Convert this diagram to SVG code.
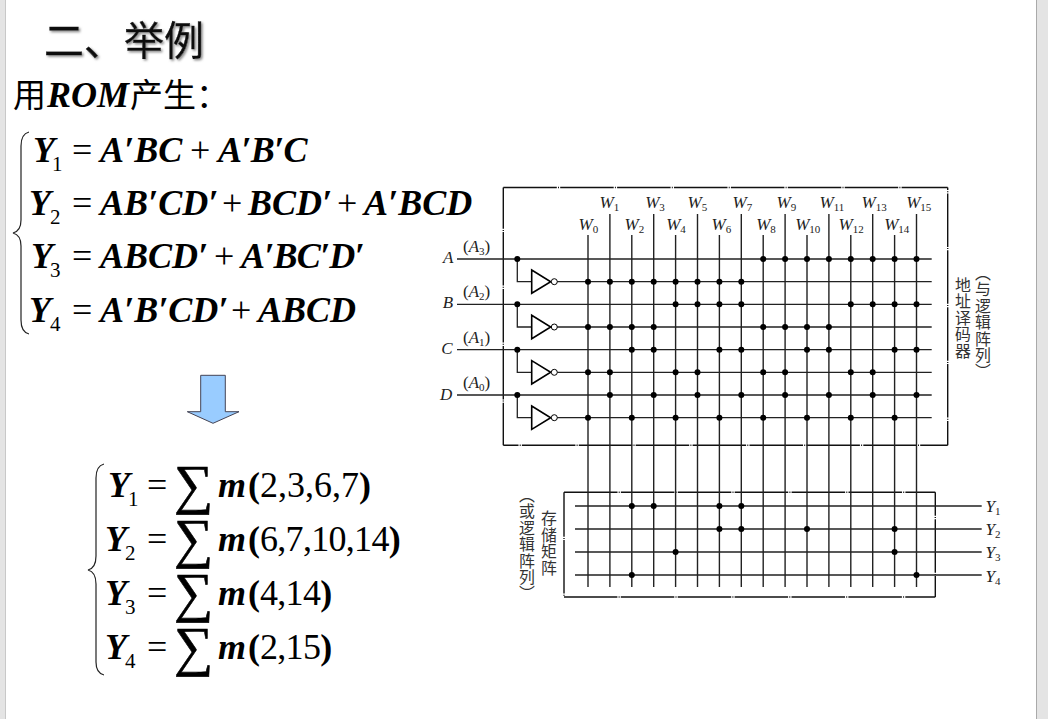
<svg xmlns="http://www.w3.org/2000/svg" width="1048" height="719" viewBox="0 0 1048 719">
<defs>
<filter id="shadow" x="-10%" y="-20%" width="120%" height="150%"><feDropShadow dx="1.5" dy="1.5" stdDeviation="1" flood-color="#888"/></filter>
</defs>
<style>
.cj{font-family:"Noto Sans CJK SC",sans-serif}
.eq{font-family:"Liberation Serif",serif;font-weight:bold;font-style:italic;font-size:36px;fill:#000}
.op{font-style:normal;font-weight:normal}
.sub{font-style:normal;font-weight:normal;font-size:21px}
.num{font-style:normal;font-weight:normal}
.par{font-style:normal}
.sum{font-style:normal;font-weight:normal;font-size:55px;stroke:#000;stroke-width:.6}
.brace{fill:none;stroke:#222;stroke-width:1.2}
.b{stroke:#111;stroke-width:1.4;fill:none;stroke-dasharray:53.5 1.2 1 1.2}
.w{stroke:#222;stroke-width:1.4;fill:none}
.h{stroke:#222;stroke-width:1.3;fill:none}
.inv{fill:#fff;stroke:#000;stroke-width:1.6}
.bub{fill:#fff;stroke:#000;stroke-width:1}
.dots{stroke:#000;stroke-width:6;stroke-linecap:round;fill:none}
.l{font-family:"Liberation Serif",serif;font-style:italic;font-size:17px;fill:#222}
.p{font-style:normal}
.s{font-style:normal;font-size:11px}
.v{font-family:"Noto Sans CJK SC",sans-serif;font-size:15.9px;writing-mode:vertical-rl;fill:#333;letter-spacing:.5px}
</style>
<rect width="1048" height="719" fill="#fff"/>
<g id="page-edges"><rect x="0" y="0" width="5" height="719" fill="#e4e4e4"/><rect x="5" y="0" width="1" height="719" fill="#c8c8c8"/><rect x="1037" y="0" width="11" height="719" fill="#e4e4e4"/><rect x="1036" y="0" width="1" height="719" fill="#aaa"/></g>
<g id="title"><text class="cj" x="44" y="55" font-size="40" fill="#111" stroke="#111" stroke-width=".4" filter="url(#shadow)">二、举例</text></g>
<g id="intro"><text y="107" font-size="34"><tspan class="cj" x="13" font-size="33">用</tspan><tspan class="eq" x="47">ROM</tspan><tspan class="cj" x="130" font-size="33">产生：</tspan></text></g>
<g id="eqs1">
<path class="brace" d="M29 132Q21 134 21 146V220Q21 231 13 233Q21 235 21 246V320Q21 332 29 334"/>
<text class="eq" y="162"><tspan x="33">Y</tspan><tspan class="sub" x="52" dy="8.5">1</tspan><tspan class="op" x="72" dy="-8.5">=</tspan><tspan x="100">A′BC</tspan><tspan class="op" x="190">+</tspan><tspan x="218" letter-spacing="-.7">A′B′C</tspan></text>
<text class="eq" y="215"><tspan x="29">Y</tspan><tspan class="sub" x="50" dy="8.5">2</tspan><tspan class="op" x="72" dy="-8.5">=</tspan><tspan x="100">AB′CD′</tspan><tspan class="op" x="222">+</tspan><tspan x="248">BCD′</tspan><tspan class="op" x="337">+</tspan><tspan x="364">A′BCD</tspan></text>
<text class="eq" y="268"><tspan x="31">Y</tspan><tspan class="sub" x="50" dy="8.5">3</tspan><tspan class="op" x="72" dy="-8.5">=</tspan><tspan x="100">ABCD′</tspan><tspan class="op" x="214">+</tspan><tspan x="241" letter-spacing="-.8">A′BC′D′</tspan></text>
<text class="eq" y="322"><tspan x="29">Y</tspan><tspan class="sub" x="50" dy="8.5">4</tspan><tspan class="op" x="72" dy="-8.5">=</tspan><tspan x="100">A′B′CD′</tspan><tspan class="op" x="231">+</tspan><tspan x="258">ABCD</tspan></text>
</g>
<g id="arrow"><path d="M200.7 375.3H225.3V411.7H239L213 423.3L187.3 411.7H200.7Z" fill="#99ccff" stroke="#445" stroke-width="1"/></g>
<g id="eqs2">
<path class="brace" d="M104 464Q96 466 96 478V556Q96 568 88 570Q96 572 96 584V662Q96 673 104 675"/>
<text class="eq" y="497"><tspan x="108">Y</tspan><tspan class="sub" x="128" dy="8.5">1</tspan><tspan class="op" x="147" dy="-8.5">=</tspan><tspan class="sum" x="174" dy="5.5">∑</tspan><tspan x="218" dy="-5.5">m</tspan><tspan class="par" x="248">(</tspan><tspan class="num">2,3,6,7</tspan><tspan class="par">)</tspan></text>
<text class="eq" y="551"><tspan x="105">Y</tspan><tspan class="sub" x="125" dy="8.5">2</tspan><tspan class="op" x="147" dy="-8.5">=</tspan><tspan class="sum" x="174" dy="5.5">∑</tspan><tspan x="218" dy="-5.5">m</tspan><tspan class="par" x="248">(</tspan><tspan class="num" letter-spacing="-.7">6,7,10,14</tspan><tspan class="par">)</tspan></text>
<text class="eq" y="605"><tspan x="105">Y</tspan><tspan class="sub" x="125" dy="8.5">3</tspan><tspan class="op" x="147" dy="-8.5">=</tspan><tspan class="sum" x="174" dy="5.5">∑</tspan><tspan x="218" dy="-5.5">m</tspan><tspan class="par" x="248">(</tspan><tspan class="num" letter-spacing="-.7">4,14</tspan><tspan class="par">)</tspan></text>
<text class="eq" y="659"><tspan x="105">Y</tspan><tspan class="sub" x="125" dy="8.5">4</tspan><tspan class="op" x="147" dy="-8.5">=</tspan><tspan class="sum" x="174" dy="5.5">∑</tspan><tspan x="218" dy="-5.5">m</tspan><tspan class="par" x="248">(</tspan><tspan class="num" letter-spacing="-.7">2,15</tspan><tspan class="par">)</tspan></text>
</g>
<g id="decoder-box">
<path class="b" d="M503.3 187.5H947.7"/><path class="b" d="M947.7 187.5V445.3" stroke-dashoffset="51"/><path class="b" d="M947.7 445.3H503.3" stroke-dashoffset="26"/><path class="b" d="M503.3 445.3V187.5" stroke-dashoffset="11"/>
</g>
<g id="or-box">
<path class="b" d="M564 492.3H935.3"/><path class="b" d="M935.3 492.3V597" stroke-dashoffset="30"/><path class="b" d="M935.3 597H564" stroke-dashoffset="23.5"/><path class="b" d="M564 597V492.3" stroke-dashoffset="53.5"/>
</g>
<g id="connectors">
<path class="h" d="M457 259H931.7M457 304.3H931.7M457 349.7H931.7M457 395H931.7M557 281.7H931.7M557 327H931.7M557 372.3H931.7M557 417.7H931.7"/>
<path class="h" d="M517.3 259V281.7H531.7M517.3 304.3V327H531.7M517.3 349.7V372.3H531.7M517.3 395V417.7H531.7"/>
<path class="h" d="M575 506H981.7M575 529H981.7M575 552H981.7M575 575H981.7"/>
<path class="w" d="M588 235V587M609.9 214V587M631.8 235V587M653.7 214V587M675.6 235V587M697.5 214V587M719.4 235V587M741.3 214V587M763.2 235V587M785.1 214V587M807 235V587M828.9 214V587M850.8 235V587M872.7 214V587M894.6 235V587M916.5 214V587"/>
</g>
<g id="inverters">
<path id="inv1" class="inv" d="M531.7 270V293.3L550.7 281.7Z"/><circle class="bub" cx="554.3" cy="281.7" r="3"/>
<path id="inv2" class="inv" d="M531.7 315.3V338.7L550.7 327Z"/><circle class="bub" cx="554.3" cy="327" r="3"/>
<path id="inv3" class="inv" d="M531.7 360.6V384L550.7 372.3Z"/><circle class="bub" cx="554.3" cy="372.3" r="3"/>
<path id="inv4" class="inv" d="M531.7 406V429.4L550.7 417.7Z"/><circle class="bub" cx="554.3" cy="417.7" r="3"/>
</g>
<g id="dots" class="dots">
<path d="M517.3 259h0M517.3 304.3h0M517.3 349.7h0M517.3 395h0"/>
<path d="M763.2 259h0M785.1 259h0M807 259h0M828.9 259h0M850.8 259h0M872.7 259h0M894.6 259h0M916.5 259h0"/>
<path d="M588 281.7h0M609.9 281.7h0M631.8 281.7h0M653.7 281.7h0M675.6 281.7h0M697.5 281.7h0M719.4 281.7h0M741.3 281.7h0"/>
<path d="M675.6 304.3h0M697.5 304.3h0M719.4 304.3h0M741.3 304.3h0M850.8 304.3h0M872.7 304.3h0M894.6 304.3h0M916.5 304.3h0"/>
<path d="M588 327h0M609.9 327h0M631.8 327h0M653.7 327h0M763.2 327h0M785.1 327h0M807 327h0M828.9 327h0"/>
<path d="M631.8 349.7h0M653.7 349.7h0M719.4 349.7h0M741.3 349.7h0M807 349.7h0M828.9 349.7h0M894.6 349.7h0M916.5 349.7h0"/>
<path d="M588 372.3h0M609.9 372.3h0M675.6 372.3h0M697.5 372.3h0M763.2 372.3h0M785.1 372.3h0M850.8 372.3h0M872.7 372.3h0"/>
<path d="M609.9 395h0M653.7 395h0M697.5 395h0M741.3 395h0M785.1 395h0M828.9 395h0M872.7 395h0M916.5 395h0"/>
<path d="M588 417.7h0M631.8 417.7h0M675.6 417.7h0M719.4 417.7h0M763.2 417.7h0M807 417.7h0M850.8 417.7h0M894.6 417.7h0"/>
<path d="M631.8 506h0M653.7 506h0M719.4 506h0M741.3 506h0M719.4 529h0M741.3 529h0M807 529h0M894.6 529h0M675.6 552h0M894.6 552h0M631.8 575h0M916.5 575h0"/>
</g>
<g id="labels">
<text class="l" x="443" y="263">A</text><text class="l" x="442.7" y="308">B</text><text class="l" x="441.3" y="353.5">C</text><text class="l" x="440" y="400">D</text>
<text class="l" x="463" y="252"><tspan class="p">(</tspan>A<tspan class="s" dy="3">3</tspan><tspan class="p" dy="-3">)</tspan></text>
<text class="l" x="463" y="297"><tspan class="p">(</tspan>A<tspan class="s" dy="3">2</tspan><tspan class="p" dy="-3">)</tspan></text>
<text class="l" x="463" y="342.5"><tspan class="p">(</tspan>A<tspan class="s" dy="3">1</tspan><tspan class="p" dy="-3">)</tspan></text>
<text class="l" x="463" y="388"><tspan class="p">(</tspan>A<tspan class="s" dy="3">0</tspan><tspan class="p" dy="-3">)</tspan></text>
<text class="l" x="578.5" y="230">W<tspan class="s" dy="3">0</tspan></text>
<text class="l" x="599.5" y="208">W<tspan class="s" dy="3">1</tspan></text>
<text class="l" x="624.5" y="230">W<tspan class="s" dy="3">2</tspan></text>
<text class="l" x="645.2" y="208">W<tspan class="s" dy="3">3</tspan></text>
<text class="l" x="666.2" y="230">W<tspan class="s" dy="3">4</tspan></text>
<text class="l" x="687.5" y="208">W<tspan class="s" dy="3">5</tspan></text>
<text class="l" x="711.5" y="230">W<tspan class="s" dy="3">6</tspan></text>
<text class="l" x="732.5" y="208">W<tspan class="s" dy="3">7</tspan></text>
<text class="l" x="756.2" y="230">W<tspan class="s" dy="3">8</tspan></text>
<text class="l" x="776.5" y="208">W<tspan class="s" dy="3">9</tspan></text>
<text class="l" x="795.2" y="230">W<tspan class="s" dy="3">10</tspan></text>
<text class="l" x="819.5" y="208">W<tspan class="s" dy="3">11</tspan></text>
<text class="l" x="838.5" y="230">W<tspan class="s" dy="3">12</tspan></text>
<text class="l" x="861.5" y="208">W<tspan class="s" dy="3">13</tspan></text>
<text class="l" x="884.2" y="230">W<tspan class="s" dy="3">14</tspan></text>
<text class="l" x="906.2" y="208">W<tspan class="s" dy="3">15</tspan></text>
<text class="l" x="985.5" y="511.7">Y<tspan class="s" dy="3">1</tspan></text>
<text class="l" x="985.5" y="535">Y<tspan class="s" dy="3">2</tspan></text>
<text class="l" x="985.5" y="558">Y<tspan class="s" dy="3">3</tspan></text>
<text class="l" x="985.5" y="581.7">Y<tspan class="s" dy="3">4</tspan></text>
<text class="v" x="963" y="277">地址译码器</text>
<text class="v" x="983" y="265">（与逻辑阵列）</text>
<text class="v" x="527" y="487">（或逻辑阵列）</text>
<text class="v" x="549" y="510.5">存储矩阵</text>
</g>
</svg>
